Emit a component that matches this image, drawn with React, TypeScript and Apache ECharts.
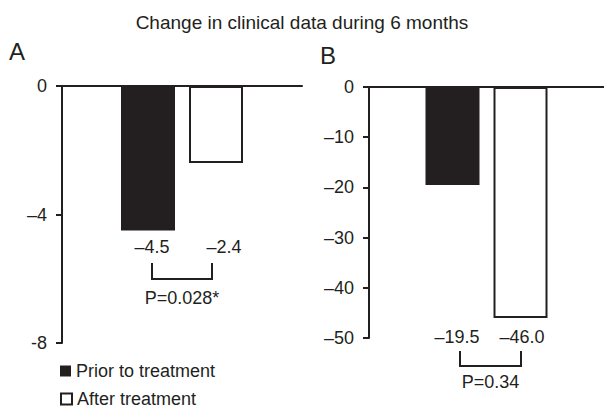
import React, { useEffect, useRef } from "react";
import * as echarts from "echarts";

const titleText = "Change in clinical data during 6 months";
const panelLetters = ["A", "B"];
const seriesNames = ["Prior to treatment", "After treatment"];
const priorValues = [-4.5, -19.5];
const afterValues = [-2.4, -46.0];
const pLabels = ["P=0.028*", "P=0.34"];
const yMins = [-8, -50];
const yIntervals = [4, 10];
const yTickLabelsA: Record<string, string> = { "0": "0", "-4": "\u20134", "-8": "-8" };

const INK = "#231f20";
const FONT = "'Liberation Sans', Arial, sans-serif";
const FS = 18;

const grids = [
  { left: 62, top: 86, width: 240, height: 257 },
  { left: 369, top: 87, width: 240, height: 251 },
];
const BAR_W = 54;
const GAP = 14;

const fmt = (v: number) => (v < 0 ? "\u2013" : "") + Math.abs(v).toFixed(1);

const txt = (text: string, x: number, y: number, size: number, align = "center") => ({
  type: "text", x, y,
  style: { text, fill: INK, fontSize: size, fontFamily: FONT, align, verticalAlign: "middle" },
});

export default function App() {
  const ref = useRef<HTMLDivElement>(null);
  useEffect(() => {
    if (!ref.current) return;
    const chart = echarts.init(ref.current, undefined, { renderer: "svg" });
    const graphics: any[] = [];
    graphics.push(txt(titleText, 302, 22, 19));
    const letterPos = [[9, 51], [320, 55]];
    panelLetters.forEach((l, i) => {
      graphics.push(txt(l, letterPos[i][0], letterPos[i][1], 24, "left"));
    });
    const labelY = [247, 337];
    const bracketTop = [263, 351];
    const bracketBot = [279, 366];
    const pY = [298, 382];
    const bracketX = [[152, 212], [460, 521]];
    grids.forEach((g, i) => {
      const c = g.left + g.width / 2;
      const half = (BAR_W + GAP) / 2;
      const xs = [c - half, c + half];
      const vals = [priorValues[i], afterValues[i]];
      const nudge = i === 0 ? [4, 8] : [2, -1];
      vals.forEach((v, k) => {
        graphics.push(txt(fmt(v), xs[k] + nudge[k], labelY[i], FS));
      });
      const [bx1, bx2] = bracketX[i];
      graphics.push({
        type: "polyline",
        shape: { points: [[bx1, bracketTop[i]], [bx1, bracketBot[i]], [bx2, bracketBot[i]], [bx2, bracketTop[i]]] },
        style: { stroke: INK, lineWidth: 2, fill: null },
      });
      graphics.push(txt(pLabels[i], (bx1 + bx2) / 2, pY[i], FS));
    });

    const axisLine = { show: true, lineStyle: { color: INK, width: 2 } };
    const legendCenters = [371, 399];
    const option: any = {
      animation: false,
      textStyle: { fontFamily: FONT },
      grid: grids.map((g) => ({ ...g, containLabel: false })),
      legend: seriesNames.map((name, k) => ({
        orient: "horizontal", left: 60, top: legendCenters[k] - 9, itemWidth: 11, itemHeight: 11,
        icon: "rect", padding: 0, itemGap: 5,
        textStyle: { color: INK, fontSize: FS, fontFamily: FONT, lineHeight: 18, padding: [0, 0, 0, 0] },
        data: [name],
        selectedMode: false,
      })),
      xAxis: grids.map((_, i) => ({
        type: "category", gridIndex: i, position: "top", data: [""],
        axisLine, axisTick: { show: false }, axisLabel: { show: false }, splitLine: { show: false },
      })),
      yAxis: grids.map((_, i) => ({
        type: "value", gridIndex: i, min: yMins[i], max: 0, interval: yIntervals[i],
        axisLine, axisTick: { show: true, length: 6, lineStyle: { color: INK, width: 2 } },
        splitLine: { show: false },
        axisLabel: {
          color: INK, fontSize: FS, fontFamily: FONT, margin: 15,
          formatter: (v: number) => (i === 0 ? yTickLabelsA[String(v)] ?? String(v) : v === 0 ? "0" : "\u2013" + Math.abs(v)),
        },
      })),
      series: grids.flatMap((_, i) => [
        {
          type: "bar", name: seriesNames[0], xAxisIndex: i, yAxisIndex: i, data: [priorValues[i]],
          barWidth: BAR_W, barGap: `${(GAP / BAR_W) * 100}%`,
          itemStyle: { color: INK, borderColor: INK, borderWidth: 0 },
        },
        {
          type: "bar", name: seriesNames[1], xAxisIndex: i, yAxisIndex: i, data: [afterValues[i]],
          barWidth: BAR_W, barGap: `${(GAP / BAR_W) * 100}%`,
          itemStyle: { color: "#ffffff", borderColor: INK, borderWidth: 2 },
        },
      ]),
      graphic: graphics,
    };
    chart.setOption(option);
    return () => chart.dispose();
  }, []);
  return <div ref={ref} style={{ position: "fixed", left: 0, top: 0, width: 604, height: 408, background: "#fff" }} />;
}
